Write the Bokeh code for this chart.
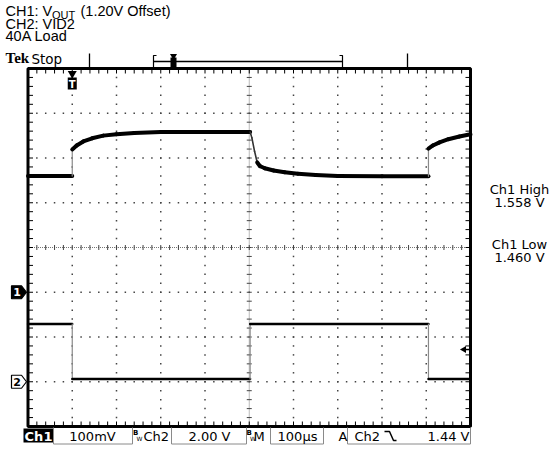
import numpy as np
from bokeh.plotting import figure
from bokeh.models import Range1d, ColumnDataSource
from bokeh.core.properties import value
from bokeh.embed import file_html
from bokeh.resources import INLINE

# ---------------- data ----------------
ch1_title_parts = ["CH1: V", "OUT", "(1.20V Offset)"]
header_lines = ["CH2: VID2", "40A Load"]
scope_brand = "Tek"
scope_state = "Stop"

ch1_offset = 1.20      # V
ch1_scale = 0.100      # V/div
ch2_scale = 2.00       # V/div
timebase_us = 100      # us/div
trig_level = 1.44      # V (Ch2, falling)

# Ch1 : V_OUT (1.20 V offset), time in us, trigger at t = 0
ch1_t = [-100, 0, 0, 10, 25, 45, 70, 100, 140, 200, 300, 402, 406, 412, 418, 424,
         435, 455, 480, 510, 550, 600, 700, 805, 805, 815, 830, 850, 875, 900]
ch1_v = [1.460, 1.460, 1.519, 1.528, 1.537, 1.544, 1.550, 1.553, 1.556, 1.558, 1.558,
         1.558, 1.545, 1.515, 1.490, 1.482, 1.477, 1.472, 1.468, 1.465, 1.462, 1.460,
         1.459, 1.459, 1.521, 1.528, 1.535, 1.542, 1.548, 1.553]

# Ch2 : VID2
ch2_t = [-100, 0, 0, 402, 402, 805, 805, 900]
ch2_v = [2.58, 2.58, 0.12, 0.12, 2.58, 2.58, 0.12, 0.12]

meas_names = ["Ch1 High", "Ch1 Low"]
meas_values = [1.558, 1.460]

# ---------------- layout (reference pixel geometry) ----------------
W, H = 557, 449
GX0, GX1, GY0, GY1 = 27.5, 470.0, 68.0, 426.0
NDX, NDY = 10, 8
dpx = (GX1 - GX0) / NDX
dpy = (GY1 - GY0) / NDY
T0 = -1 * timebase_us
C1_TOP = ch1_offset + 5 * ch1_scale
C2_TOP = 0.0 + 7 * ch2_scale


def X(px):
    return T0 + (px - GX0) / dpx * timebase_us


def Y(py):
    return C1_TOP - (py - GY0) / dpy * ch1_scale


def Y2(py):
    return C2_TOP - (py - GY0) / dpy * ch2_scale


p = figure(width=W, height=H, output_backend="svg", toolbar_location=None,
           x_range=Range1d(X(0), X(W)), y_range=Range1d(Y(H), Y(0)),
           x_axis_location=None, y_axis_location=None)
p.extra_y_ranges = {"ch2": Range1d(Y2(H), Y2(0))}
p.min_border_left = p.min_border_right = p.min_border_top = p.min_border_bottom = 0
p.outline_line_color = None
p.grid.visible = False
p.background_fill_color = "white"
p.border_fill_color = "white"

SANS = "Liberation Sans"
GEN = "DejaVu Sans"
BL = 0.37  # measured baseline drop of svg text, in em


def txt(px, py, s, size, font=GEN, color="black", align="left", style="normal"):
    p.text(x=[X(px)], y=[Y(py - BL * size)], text=[s], text_font=value(font),
           text_font_size=f"{size}px", text_color=color, text_align=align,
           text_baseline="alphabetic", text_font_style=style)


def segs(x0, y0, x1, y1, color="black", width=1.0, dash="solid"):
    p.segment(x0=[X(a) for a in x0], y0=[Y(a) for a in y0],
              x1=[X(a) for a in x1], y1=[Y(a) for a in y1],
              line_color=color, line_width=width, line_dash=dash)


# ---------------- graticule ----------------
xs_minor = [GX0 + m * dpx / 5 for m in range(1, NDX * 5)]
ys_minor = [GY0 + m * dpy / 5 for m in range(1, NDY * 5)]
dx_, dy_ = [], []
for k in range(1, NDX):
    if k == NDX // 2:
        continue
    for yy in ys_minor:
        dx_.append(X(GX0 + k * dpx)); dy_.append(Y(yy))
for j in range(1, NDY):
    if j == NDY // 2:
        continue
    for xx in xs_minor:
        dx_.append(X(xx)); dy_.append(Y(GY0 + j * dpy))
p.scatter(dx_, dy_, marker="square", size=1.5, fill_color="#444444", line_color=None)

cx = GX0 + (NDX // 2) * dpx
cy = GY0 + (NDY // 2) * dpy
segs([GX0], [cy], [GX1], [cy], color="#777777", width=1, dash="1 1")
segs([cx], [GY0], [cx], [GY1], color="#777777", width=1, dash="1 1")
segs(xs_minor, [cy - 2.5] * len(xs_minor), xs_minor, [cy + 2.5] * len(xs_minor), color="#444444", width=1)
segs([cx - 2.5] * len(ys_minor), ys_minor, [cx + 2.5] * len(ys_minor), ys_minor, color="#444444", width=1)

# border ticks
segs(xs_minor, [GY0] * len(xs_minor), xs_minor, [GY0 + 5] * len(xs_minor), width=1)
segs(xs_minor, [GY1 - 5] * len(xs_minor), xs_minor, [GY1] * len(xs_minor), width=1)
segs([GX0] * len(ys_minor), ys_minor, [GX0 + 5] * len(ys_minor), ys_minor, width=1)
segs([GX1 - 5] * len(ys_minor), ys_minor, [GX1] * len(ys_minor), ys_minor, width=1)


# ---------------- traces ----------------
def trace_source(t, v, yscale, thick, steep_w):
    t = np.asarray(t, float)
    v = np.asarray(v, float)
    dxp = np.diff(t) / timebase_us * dpx
    dyp = np.diff(v) / yscale * dpy
    vert = dxp == 0
    steep = (~vert) & (np.abs(dyp) > 2 * np.abs(dxp))
    w = np.where(vert, 1.2, np.where(steep, steep_w, thick))
    c = np.where(vert, "#8a8a8a", np.where(steep, "#333333", "black"))
    return ColumnDataSource(dict(x0=t[:-1], y0=v[:-1], x1=t[1:], y1=v[1:],
                                 w=list(w), c=list(c)))


src2 = trace_source(ch2_t, ch2_v, ch2_scale, 2.4, 1.4)
p.segment(x0="x0", y0="y0", x1="x1", y1="y1", line_width="w", line_color="c",
          line_cap="round", source=src2, y_range_name="ch2")
src1 = trace_source(ch1_t, ch1_v, ch1_scale, 4.0, 1.6)
p.segment(x0="x0", y0="y0", x1="x1", y1="y1", line_width="w", line_color="c",
          line_cap="round", source=src1)

# border
p.quad(left=[X(GX0)], right=[X(GX1)], top=[Y(GY0)], bottom=[Y(GY1)],
       fill_color=None, line_color="black", line_width=3)

# trigger position marker (t = 0) under the top border
p.scatter(x=[0], y=[Y(73)], marker="inverted_triangle", size=9, fill_color="black", line_color=None)
p.rect(x=[0], y=[Y(83)], width=9, height=12, width_units="screen", height_units="screen",
       fill_color="black", line_color=None)
p.text(x=[0], y=[Y(87.5 - BL * 10)], text=["T"], text_font=value(GEN), text_font_size="10px",
       text_color="white", text_align="center", text_baseline="alphabetic", text_font_style="bold")

# trigger level arrow (Ch2) at the right edge
p.scatter(x=[X(463.5)], y=[trig_level], marker="triangle", angle=np.pi / 2, size=7,
          fill_color="black", line_color=None, y_range_name="ch2")
p.segment(x0=[X(464)], y0=[trig_level], x1=[X(469)], y1=[trig_level], line_color="black",
          line_width=1.5, y_range_name="ch2")

# ground markers
gy1 = GY0 + (C1_TOP - ch1_offset) / ch1_scale * dpy
gy2 = GY0 + (C2_TOP - 0.0) / ch2_scale * dpy
for gy, fill, tcol, lab in [(gy1, "black", "white", "1"), (gy2, "white", "black", "2")]:
    pts_x = [11, 21, 26, 21, 11]
    pts_y = [gy - 6.5, gy - 6.5, gy, gy + 6.5, gy + 6.5]
    p.patch([X(a) for a in pts_x], [Y(b) for b in pts_y], fill_color=fill,
            line_color="black", line_width=1.2)
    txt(16.5, gy + 4, lab, 11, color=tcol, align="center", style="bold")

# ---------------- header ----------------
txt(5, 16, ch1_title_parts[0], 14.5, font=SANS)
txt(51.5, 19, ch1_title_parts[1], 11, font=SANS)
txt(80, 16, ch1_title_parts[2], 14.5, font=SANS)
for i, line in enumerate(header_lines):
    txt(5, 28.5 + 12.5 * i, line, 14.5, font=SANS)
txt(5, 63, scope_brand, 15, font="Liberation Serif", style="bold")
txt(31, 63, scope_state, 13.5, font=GEN)

# record / trigger-position ruler above the graticule
segs([153], [61], [342], [61], width=1.3)
p.multi_line([[X(156), X(153), X(153), X(156)], [X(339), X(342), X(342), X(339)]],
             [[Y(55), Y(55), Y(67), Y(67)], [Y(55), Y(55), Y(67), Y(67)]],
             line_color="black", line_width=1.2)
segs([89, 407], [53, 53], [89, 407], [68, 68], width=1.3)
p.rect(x=[X(173)], y=[Y(62)], width=6, height=10, width_units="screen", height_units="screen",
       fill_color="black", line_color=None)
p.scatter(x=[X(173)], y=[Y(55.5)], marker="inverted_triangle", size=7, fill_color="black", line_color=None)

# ---------------- measurement readouts ----------------
for i, (nm, val) in enumerate(zip(meas_names, meas_values)):
    base = 194 + 55 * i
    txt(519, base, nm, 13, align="center")
    txt(519, base + 12.5, f"{val:.3f} V", 13, align="center")

# ---------------- status bar ----------------
p.quad(left=[X(23)], right=[X(53)], top=[Y(428)], bottom=[Y(442)],
       fill_color="black", line_color=None)
txt(38, 441, "Ch1", 13, color="white", align="center", style="bold")
for l, r in [(53, 132), (171, 246), (270, 323), (347, 470)]:
    p.line([X(l), X(l), X(r), X(r)], [Y(427), Y(443.5), Y(443.5), Y(427)],
           line_color="#8a8a8a", line_width=1)
txt(92, 441, f"{ch1_scale * 1000:.0f}mV", 13, align="center")
for bx in (132.5, 246):
    txt(bx, 435, "B", 7, style="bold")
    txt(bx + 3.5, 440, "W", 6)
txt(143, 441, "Ch2", 13)
txt(209, 441, f"{ch2_scale:.2f} V", 13, align="center")
txt(253, 441, "M", 13)
txt(297, 441, f"{timebase_us}µs", 13, align="center")
txt(338, 441, "A", 13)
txt(354, 441, "Ch2", 13)
p.line([X(384), X(389), X(393), X(396)], [Y(431), Y(431), Y(440), Y(440)],
       line_color="black", line_width=1.5)
txt(469, 441, f"{trig_level:.2f} V", 13, align="right")

open("out.html", "w").write(file_html(p, INLINE))
